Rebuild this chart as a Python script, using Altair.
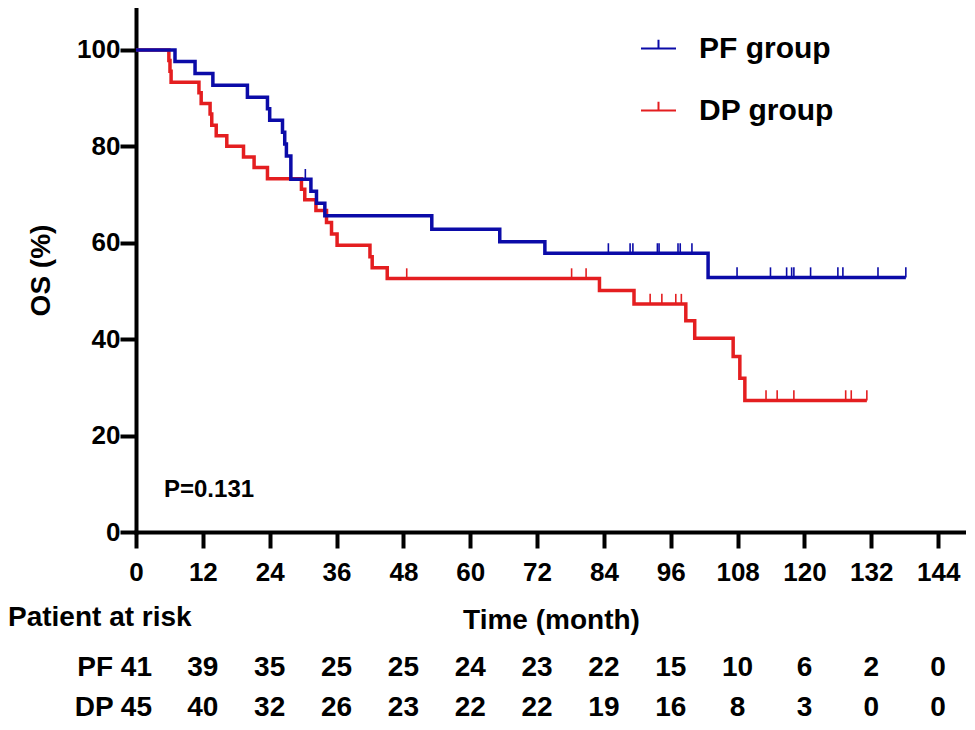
import altair as alt
import pandas as pd

# ---- data ----
pf_time = [0, 7.0, 10.6, 13.8, 20.0, 23.6, 24.0, 26.3, 26.7, 27.0, 27.8, 31.4, 32.4, 33.9,
           53.1, 65.3, 73.4, 102.7, 138.2]
pf_surv = [100, 97.6, 95.1, 92.7, 90.2, 87.8, 85.4, 82.9, 80.5, 78.0, 73.2, 70.7, 68.2, 65.6,
           62.8, 60.2, 57.8, 52.8, 52.8]
pf_cens = [30.4, 84.8, 88.7, 89.2, 93.6, 93.9, 97.3, 97.7, 99.8, 107.9, 113.9, 116.8, 117.7,
           118.1, 121.1, 126.0, 126.9, 133.2, 138.2]

dp_time = [0, 5.9, 6.1, 6.3, 11.3, 11.7, 13.3, 13.6, 14.4, 16.3, 19.3, 21.2, 23.6, 29.7, 30.3,
           32.3, 34.2, 35.1, 36.1, 42.0, 42.4, 45.1, 83.2, 89.4, 98.7, 100.3, 107.2, 108.4,
           109.3, 131.2]
dp_surv = [100, 97.8, 95.6, 93.3, 91.1, 88.9, 86.7, 84.4, 82.2, 80.0, 77.8, 75.6, 73.3, 71.1,
           68.9, 66.7, 64.2, 61.8, 59.5, 57.1, 54.8, 52.6, 50.1, 47.3, 43.8, 40.2, 36.4, 31.9,
           27.3, 27.3]
dp_cens = [48.6, 78.2, 80.8, 92.3, 94.4, 96.9, 97.9, 113.1, 115.1, 118.1, 127.4, 128.4, 131.2]

risk_times = [0, 12, 24, 36, 48, 60, 72, 84, 96, 108, 120, 132, 144]
pf_risk = [41, 39, 35, 25, 25, 24, 23, 22, 15, 10, 6, 2, 0]
dp_risk = [45, 40, 32, 26, 23, 22, 22, 19, 16, 8, 3, 0, 0]

groups = ["PF group", "DP group"]
x_ticks = risk_times
y_ticks = [0, 20, 40, 60, 80, 100]

BLUE = "#0B0BA8"
RED = "#E41E20"
FONT = "Liberation Sans"

W, H = 830, 524


def step_df(times, surv, group):
    return pd.DataFrame({"time": times, "surv": surv, "group": group})


def cens_df(ctimes, times, surv, group):
    vals = []
    for c in ctimes:
        idx = max(i for i, t in enumerate(times) if t <= c)
        vals.append(surv[idx])
    return pd.DataFrame({"time": ctimes, "surv": vals,
                         "top": [v + 2.1 for v in vals], "group": group})


pf_line = step_df(pf_time, pf_surv, groups[0])
dp_line = step_df(dp_time, dp_surv, groups[1])
pf_c = cens_df(pf_cens, pf_time, pf_surv, groups[0])
dp_c = cens_df(dp_cens, dp_time, dp_surv, groups[1])

xscale = alt.Scale(domain=[0, 149], nice=False, zero=False)
yscale = alt.Scale(domain=[0, 108.7], nice=False, zero=False)
cscale = alt.Scale(domain=groups, range=[BLUE, RED])

xaxis = alt.Axis(values=x_ticks, title="Time (month)", labelFlush=False, labelOverlap=False,
                 labelPadding=11, titlePadding=21)
yaxis = alt.Axis(values=y_ticks, title="OS (%)", labelFlush=False, labelOverlap=False,
                 labelPadding=0, titlePadding=21)
legend = alt.Legend(title=None, orient="none", legendX=504, legendY=22, padding=0,
                    symbolType="M-1,0H1M0,0V-0.5", symbolSize=1225, symbolStrokeWidth=2,
                    labelFont=FONT, labelFontSize=30, labelFontWeight="bold",
                    labelColor="black", labelOffset=22, rowPadding=28)

X = alt.X("time:Q", scale=xscale, axis=xaxis)
Y = alt.Y("surv:Q", scale=yscale, axis=yaxis)
C = alt.Color("group:N", scale=cscale, legend=legend)


def line_layer(df):
    return alt.Chart(df).mark_line(interpolate="step-after", strokeWidth=3.5).encode(
        x=X, y=Y, color=C)


def cens_layer(df):
    return alt.Chart(df).mark_rule(strokeWidth=1.6).encode(
        x="time:Q", y="surv:Q", y2="top:Q", color=C)


risk = pd.DataFrame({"time": risk_times, "pf": pf_risk, "dp": dp_risk})
risk["pf_lab"] = [f"PF {v}" if t == 0 else str(v) for t, v in zip(risk_times, pf_risk)]
risk["dp_lab"] = [f"DP {v}" if t == 0 else str(v) for t, v in zip(risk_times, dp_risk)]
first = risk[risk["time"] == 0]
rest = risk[risk["time"] > 0]

txt = dict(font=FONT, fontWeight="bold", fontSize=28, color="black", baseline="middle")
ROW_PF, ROW_DP = 660, 700

risk_layers = []
for col, row in (("pf_lab", ROW_PF), ("dp_lab", ROW_DP)):
    risk_layers.append(alt.Chart(rest).mark_text(align="center", **txt).encode(
        x="time:Q", y=alt.value(row), text=f"{col}:N"))
    risk_layers.append(alt.Chart(first).mark_text(align="right", dx=16, **txt).encode(
        x="time:Q", y=alt.value(row), text=f"{col}:N"))

ann = pd.DataFrame({"label": ["Patient at risk"]})
pat = alt.Chart(ann).mark_text(align="left", **txt).encode(
    x=alt.value(-128), y=alt.value(610), text="label:N")

pv = pd.DataFrame({"label": ["P=0.131"]})
pval = alt.Chart(pv).mark_text(align="left", font=FONT, fontWeight="bold", fontSize=24,
                               color="black", baseline="middle").encode(
    x=alt.value(28), y=alt.value(482), text="label:N")

chart = alt.layer(
    line_layer(dp_line), cens_layer(dp_c),
    line_layer(pf_line), cens_layer(pf_c),
    pval, pat, *risk_layers,
).properties(
    width=W, height=H,
    background="white",
    autosize=alt.AutoSizeParams(type="none"),
    padding={"left": 128, "top": 0, "right": 0, "bottom": 190},
).configure_view(stroke=None).configure_axis(
    domainColor="black", domainWidth=4, domainCap="square",
    tickColor="black", tickWidth=4, tickSize=16,
    labelFont=FONT, labelFontSize=26, labelFontWeight="bold", labelColor="black",
    titleFont=FONT, titleFontSize=28, titleFontWeight="bold", titleColor="black",
    grid=False,
)

chart.save("out.html", embed_options={"renderer": "svg", "actions": False})
